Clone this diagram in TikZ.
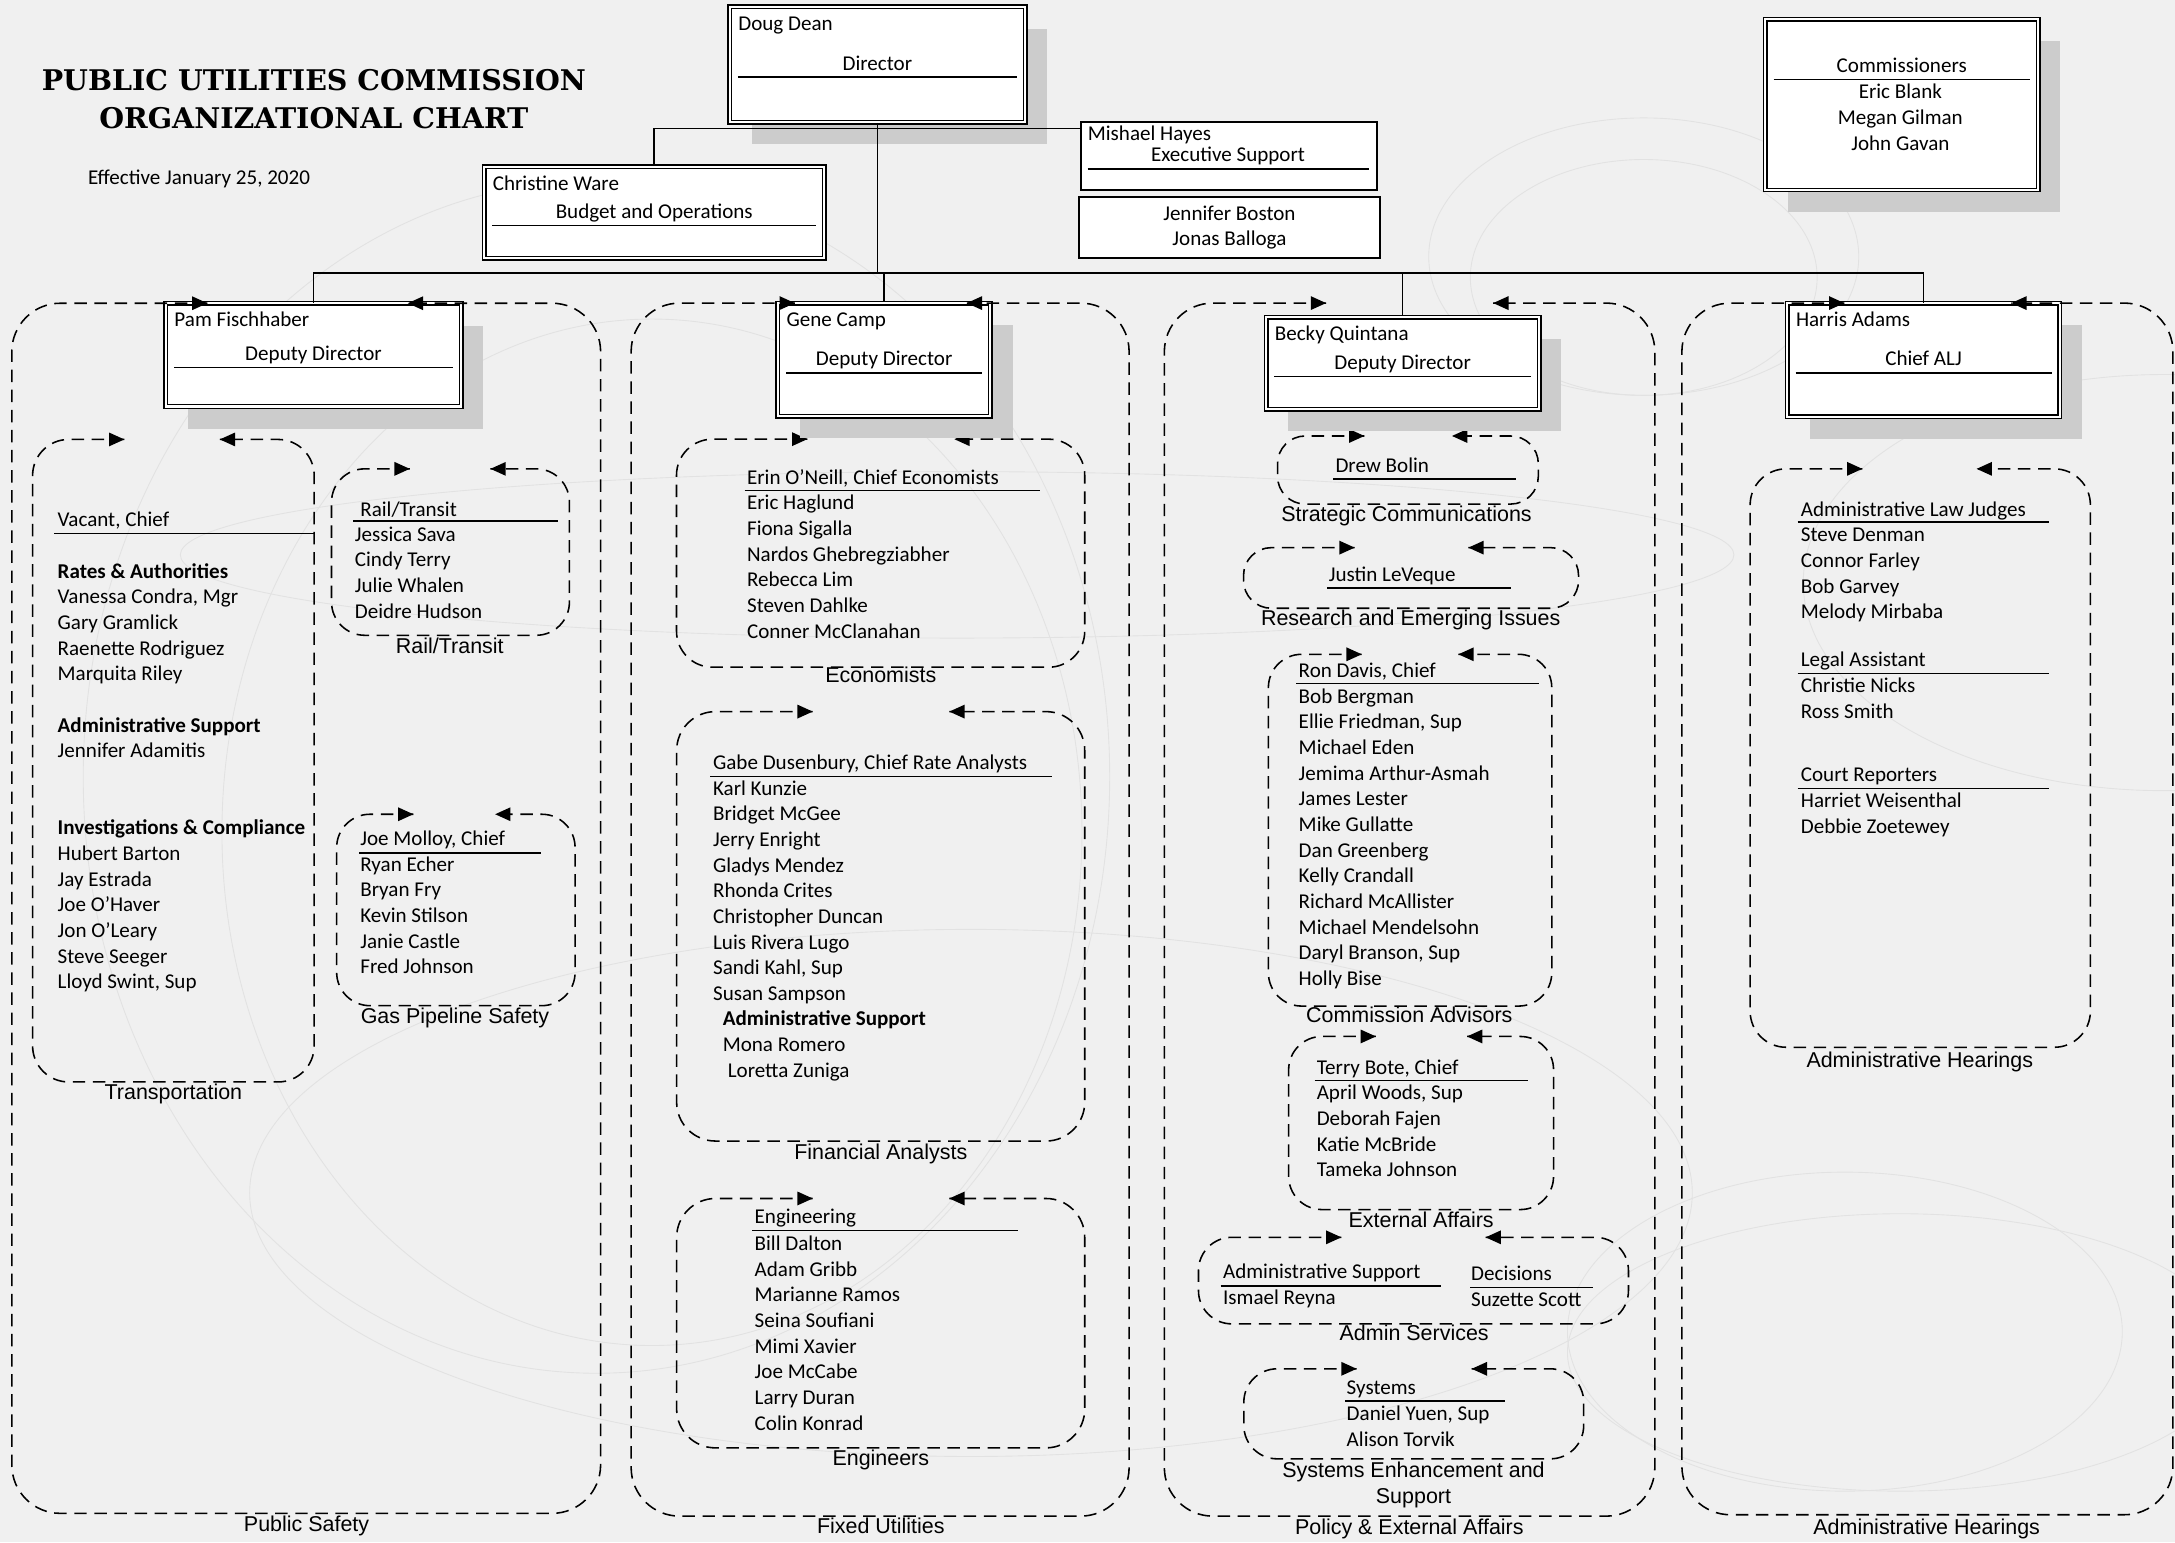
\documentclass[tikz,border=0pt]{standalone}
\usepackage{fontspec}
\setmainfont{Carlito}
\newfontfamily\arialfont{Liberation Sans}
\newfontfamily\titlefont{DejaVu Serif}
\usetikzlibrary{fit}

\definecolor{pagebg}{HTML}{F0F0F0}
\definecolor{shadegray}{HTML}{CCCCCC}
\definecolor{swirlgray}{HTML}{E2E2E2}

\newcommand{\namefont}{\fontsize{10.8}{13.16}\selectfont}

% dashed unit frame: [radius] x1 y1 x2 y2, tip of right arrow, tip of left arrow
\newcommand{\unitbox}[7][0.65cm]{%
  \draw[unitline, rounded corners=#1] (#6,#3) -- (#2,#3) -- (#2,#5) -- (#4,#5) -- (#4,#3) -- (#7,#3);
  \fill (#6,#3) -- ++(-11,-5) -- ++(0,10) -- cycle;
  \fill (#7,#3) -- ++(11,-5) -- ++(0,10) -- cycle;
}

% head box: [shadow] name x1 y1 x2 y2 rule-y person title
\newcommand{\headbox}[9][16]{%
  \fill[boxshade] (#3+#1,#4+#1) rectangle (#5+#1,#6+#1);
  \node[headnode, fit={(#3,#4) (#5,#6)}] (#2) {};
  \node[person] (#2-name) at (#3+6,#4+17) {#8};
  \node[person, anchor=base] (#2-post) at ({(#3+#5)/2},#7-5) {#9};
  \draw[rule] (#3+6,#7) -- (#5-6,#7);
}

\begin{document}
\begin{tikzpicture}[x=0.025cm, y=-0.025cm,
  wire/.style={line width=0.8pt},
  unitline/.style={line width=0.8pt, dash pattern=on 6.4pt off 3.9pt},
  headnode/.style={draw, double, double distance=1.1pt, line width=0.7pt, fill=white, inner sep=0pt},
  plainbox/.style={draw, line width=1pt, fill=white, inner sep=0pt},
  boxshade/.style={fill=shadegray},
  rule/.style={line width=0.8pt},
  person/.style={font=\namefont, anchor=base west, inner sep=0pt},
  staff/.style={font=\namefont, anchor=north west, align=left, inner sep=0pt},
  unitlabel/.style={font=\arialfont\fontsize{11}{13}\selectfont, text height=8pt, text depth=2pt, inner sep=0pt},
  heading/.style={font=\titlefont\bfseries\fontsize{14.6}{18}\selectfont, anchor=base, inner sep=0pt},
  swirl/.style={draw=swirlgray, line width=0.45pt}]
\useasboundingbox (0,0) rectangle (1568,1112);
\fill[pagebg] (0,0) rectangle (1568,1112);

% background swirls
\draw[swirl] (430,560) ellipse [x radius=370, y radius=430];
\draw[swirl] (470,600) ellipse [x radius=310, y radius=370];
\draw[swirl] (690,400) ellipse [x radius=560, y radius=60];
\draw[swirl] (700,860) ellipse [x radius=520, y radius=190];
\draw[swirl] (1185,185) ellipse [x radius=155, y radius=100];
\draw[swirl] (1185,200) ellipse [x radius=125, y radius=85];
\draw[swirl] (1330,960) ellipse [x radius=200, y radius=115];
\draw[swirl] (1370,975) ellipse [x radius=240, y radius=100];
\draw[swirl] (1560,420) ellipse [x radius=260, y radius=150];

% inner units
\unitbox{23.5}{316.8}{226.5}{780}{89.6}{158.5} % Transportation
\unitbox[0.6cm]{239}{338}{410.5}{458}{295.4}{353.6} % Rail/Transit
\unitbox[0.6cm]{242.7}{587}{414.6}{725}{298}{357} % Gas Pipeline
\unitbox{487.7}{316.6}{782}{481}{582}{688} % Economists
\unitbox[0.7cm]{487.8}{513}{782}{822.6}{585.9}{684.4} % Financial
\unitbox[0.7cm]{487.8}{864}{782}{1043.8}{585.9}{684.4} % Engineers
\unitbox[0.5cm]{921}{314.3}{1109}{363.4}{983.6}{1046.8} % Strategic
\unitbox[0.5cm]{896.5}{394.8}{1138}{438.5}{976.6}{1058.6} % Research
\unitbox[0.6cm]{914.4}{471.7}{1118.7}{725.3}{981.7}{1051.4} % Advisors
\unitbox[0.6cm]{929}{747.2}{1120}{872}{991.9}{1057.6} % External
\unitbox[0.6cm]{864}{892}{1174}{954.4}{967}{1071} % Admin Services
\unitbox[0.6cm]{896.7}{986.8}{1141.7}{1051.7}{978}{1061} % Systems
\unitbox{1261.7}{338}{1507}{755}{1342.6}{1425} % Hearings

% head boxes
\headbox{dir}{526}{5}{739}{88}{55.7}{Doug Dean}{Director}
\headbox{comm}{1272.7}{13.9}{1469.3}{137}{57.2}{}{Commissioners}
\headbox[0]{budget}{349}{120.2}{594.3}{186.2}{162.7}{Christine Ware}{Budget and Operations}
\headbox{pam}{119.5}{218.7}{332.5}{293}{265}{Pam Fischhaber}{Deputy Director}
\headbox{gene}{560.8}{218.5}{714}{300}{268.7}{Gene Camp}{Deputy Director}
\headbox{becky}{912.8}{228.6}{1109.6}{295}{271.5}{Becky Quintana}{Deputy Director}
\headbox{harris}{1288.5}{218.6}{1485}{300.4}{268.7}{Harris Adams}{Chief ALJ}
\node[staff, align=center, anchor=north] (comm-list) at (1370,58) {\strut Eric Blank\\Megan Gilman\\John Gavan};

\node[plainbox, fit={(779.3,87.7) (992.4,137)}] (exec) {}; % Executive Support
\node[person] (exec-name) at (784,101) {Mishael Hayes};
\node[person, anchor=base] (exec-post) at (885.3,116.6) {Executive Support};
\draw[rule] (784,121.8) -- (987,121.8);
\node[plainbox, fit={(777.7,141.8) (995,186.2)}] (execstaff) {};
\node[staff, align=center, anchor=north] (execstaff-list) at (886.3,145.6) {\strut Jennifer Boston\\Jonas Balloga};

% outer units
\unitbox[0.875cm]{8.5}{218.6}{433}{1091}{149.5}{294} % Public Safety
\unitbox[0.875cm]{455}{218.5}{814}{1093}{573}{697} % Fixed Utilities
\unitbox[0.875cm]{839.4}{218.5}{1193}{1093}{956}{1076.5} % Policy
\unitbox[0.875cm]{1212.5}{218.5}{1566.5}{1092}{1329.6}{1450} % Hearings

% connectors
\coordinate (tee) at (632.5,92.5);
\coordinate (bus) at (632.5,197);
\draw[wire] (dir.south) -- (bus);
\draw[wire] (budget.north) |- (tee) -- (tee -| exec.west);
\draw[wire] (pam.north |- bus) -- (harris.north |- bus);
\draw[wire] (pam.north |- bus) -- (pam.north);
\draw[wire] (gene.north |- bus) -- (gene.north);
\draw[wire] (becky.north |- bus) -- (becky.north);
\draw[wire] (harris.north |- bus) -- (harris.north);

% title
\node[heading] (title-a) at (226.3,65) {PUBLIC UTILITIES COMMISSION};
\node[heading] (title-b) at (226.3,92.5) {ORGANIZATIONAL CHART};
\node[person] (effective) at (63.2,132.9) {Effective January 25, 2020};

% Public Safety
\node[person] (vacant) at (41.3,379.2) {Vacant, Chief};
\draw[rule] (39,384.5) -- (227,384.5);
\node[staff] (transp-list) at (41.3,403.5) {\strut\textbf{Rates \& Authorities}\\Vanessa Condra, Mgr\\Gary Gramlick\\Raenette Rodriguez\\Marquita Riley\\\mbox{}\\\textbf{Administrative Support}\\Jennifer Adamitis\\\mbox{}\\\mbox{}\\\textbf{Investigations \& Compliance}\\Hubert Barton\\Jay Estrada\\Joe O’Haver\\Jon O’Leary\\Steve Seeger\\Lloyd Swint, Sup};
\node[person] (rail-head) at (259.5,372) {Rail/Transit};
\draw[rule] (254.7,375.6) -- (402.6,375.6);
\node[staff] (rail-list) at (255.6,377) {\strut Jessica Sava\\Cindy Terry\\Julie Whalen\\Deidre Hudson};
\node[person] (gas-head) at (259.5,609.8) {Joe Molloy, Chief};
\draw[rule] (258.9,614.8) -- (390,614.8);
\node[staff] (gas-list) at (259.5,614.9) {\strut Ryan Echer\\Bryan Fry\\Kevin Stilson\\Janie Castle\\Fred Johnson};

% Fixed Utilities
\node[person] (econ-head) at (538.3,349.6) {Erin O’Neill, Chief Economists};
\draw[rule] (536.8,353.7) -- (750,353.7);
\node[staff] (econ-list) at (538.3,354.2) {\strut Eric Haglund\\Fiona Sigalla\\Nardos Ghebregziabher\\Rebecca Lim\\Steven Dahlke\\Conner McClanahan};
\node[person] (fin-head) at (513.8,554.9) {Gabe Dusenbury, Chief Rate Analysts};
\draw[rule] (511.9,559.7) -- (758.2,559.7);
\node[staff] (fin-list) at (513.8,560.1) {\strut Karl Kunzie\\Bridget McGee\\Jerry Enright\\Gladys Mendez\\Rhonda Crites\\Christopher Duncan\\Luis Rivera Lugo\\Sandi Kahl, Sup\\Susan Sampson};
\node[staff] (fin-admin) at (520.8,726.3) {\strut\textbf{Administrative Support}\\Mona Romero\\\hspace{0.09cm}Loretta Zuniga};
\node[person] (eng-head) at (543.8,882.2) {Engineering};
\draw[rule] (542.4,887) -- (733.7,887);
\node[staff] (eng-list) at (543.8,888.2) {\strut Bill Dalton\\Adam Gribb\\Marianne Ramos\\Seina Soufiani\\Mimi Xavier\\Joe McCabe\\Larry Duran\\Colin Konrad};

% Policy & External Affairs
\node[person] (strat-head) at (962.5,340.7) {Drew Bolin};
\draw[rule] (961,345.5) -- (1093,345.5);
\node[person] (res-head) at (957.7,419.3) {Justin LeVeque};
\draw[rule] (957,423.7) -- (1089,423.7);
\node[person] (adv-head) at (936,488.6) {Ron Davis, Chief};
\draw[rule] (934.4,492.7) -- (1109.6,492.7);
\node[staff] (adv-list) at (936,493.6) {\strut Bob Bergman\\Ellie Friedman, Sup\\Michael Eden\\Jemima Arthur-Asmah\\James Lester\\Mike Gullatte\\Dan Greenberg\\Kelly Crandall\\Richard McAllister\\Michael Mendelsohn\\Daryl Branson, Sup\\Holly Bise};
\node[person] (ext-head) at (949,774.7) {Terry Bote, Chief};
\draw[rule] (947.8,779) -- (1101.7,779);
\node[staff] (ext-list) at (949,779.7) {\strut April Woods, Sup\\Deborah Fajen\\Katie McBride\\Tameka Johnson};
\node[person] (admsup-head) at (881.5,921.9) {Administrative Support};
\draw[rule] (880,927) -- (1038.8,927);
\node[person] (admsup-who) at (881.5,940.5) {Ismael Reyna};
\node[person] (dec-head) at (1060.3,923.3) {Decisions};
\draw[rule] (1059.8,928.2) -- (1148.6,928.2);
\node[person] (dec-who) at (1060.3,941.9) {Suzette Scott};
\node[person] (sys-head) at (970.6,1005.3) {Systems};
\draw[rule] (969.7,1010) -- (1085,1010);
\node[staff] (sys-list) at (970.6,1010.8) {\strut Daniel Yuen, Sup\\Alison Torvik};

% Administrative Hearings
\node[person] (alj-head) at (1298,372) {Administrative Law Judges};
\draw[rule] (1296,376.4) -- (1477,376.4);
\node[staff] (alj-list) at (1298,377.3) {\strut Steve Denman\\Connor Farley\\Bob Garvey\\Melody Mirbaba};
\node[person] (legal-head) at (1298,480.3) {Legal Assistant};
\draw[rule] (1296,485.5) -- (1477,485.5);
\node[staff] (legal-list) at (1298,486) {\strut Christie Nicks\\Ross Smith};
\node[person] (court-head) at (1298,563.3) {Court Reporters};
\draw[rule] (1296,568.4) -- (1477,568.4);
\node[staff] (court-list) at (1298,568.9) {\strut Harriet Weisenthal\\Debbie Zoetewey};

% unit names
\node[unitlabel] (transp-lbl) at (125,788.4) {Transportation};
\node[unitlabel] (rail-lbl) at (324.3,467) {Rail/Transit};
\node[unitlabel] (gas-lbl) at (328,733.4) {Gas Pipeline Safety};
\node[unitlabel] (safety-lbl) at (221,1100) {Public Safety};
\node[unitlabel] (econ-lbl) at (635,488) {Economists};
\node[unitlabel] (fin-lbl) at (635,831.5) {Financial Analysts};
\node[unitlabel] (eng-lbl) at (635,1052.6) {Engineers};
\node[unitlabel] (fixed-lbl) at (635,1101.5) {Fixed Utilities};
\node[unitlabel] (strat-lbl) at (1014,372) {Strategic Communications};
\node[unitlabel] (res-lbl) at (1017,447) {Research and Emerging Issues};
\node[unitlabel] (adv-lbl) at (1016,733) {Commission Advisors};
\node[unitlabel] (ext-lbl) at (1024.5,880.7) {External Affairs};
\node[unitlabel] (adm-lbl) at (1019.5,962.5) {Admin Services};
\node[unitlabel] (sys-lbl) at (1019,1061) {Systems Enhancement and};
\node[unitlabel] (sys-lbl2) at (1019,1080) {Support};
\node[unitlabel] (policy-lbl) at (1016,1102) {Policy \& External Affairs};
\node[unitlabel] (hear-lbl) at (1384,765.5) {Administrative Hearings};
\node[unitlabel] (alj-lbl) at (1389,1102) {Administrative Hearings};

\end{tikzpicture}
\end{document}
